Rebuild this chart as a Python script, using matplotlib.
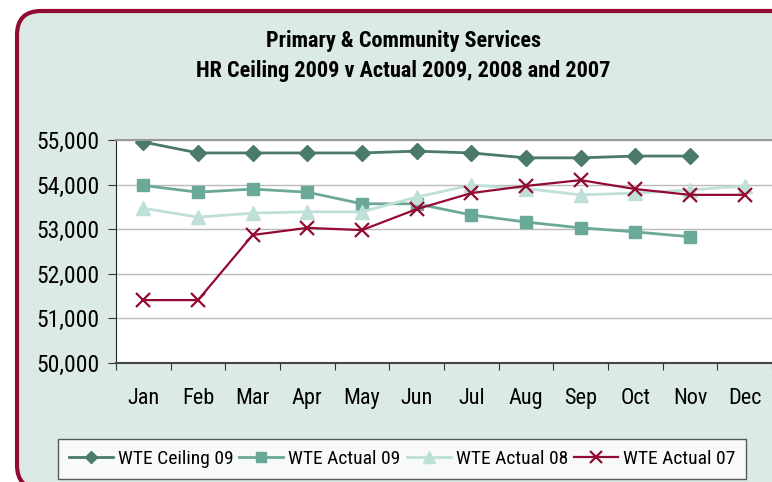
import matplotlib
matplotlib.use("Agg")
import matplotlib.pyplot as plt
from matplotlib.patches import FancyBboxPatch

plt.rcParams['font.family'] = ['Roboto Condensed', 'Liberation Sans', 'DejaVu Sans']

months = ["Jan", "Feb", "Mar", "Apr", "May", "Jun", "Jul", "Aug", "Sep", "Oct", "Nov", "Dec"]
ceiling_09 = [54955, 54710, 54710, 54710, 54710, 54750, 54710, 54600, 54600, 54640, 54640]
actual_09 = [53980, 53830, 53900, 53830, 53570, 53570, 53320, 53160, 53030, 52940, 52830]
actual_08 = [53470, 53270, 53360, 53390, 53390, 53720, 53990, 53910, 53770, 53810, 53880, 53970]
actual_07 = [51410, 51410, 52870, 53030, 52980, 53450, 53810, 53970, 54100, 53900, 53770, 53770]
yticks = [50000, 51000, 52000, 53000, 54000, 55000]

bg = "#dceae5"
maroon = "#930b31"

fig = plt.figure(figsize=(7.72, 4.82), dpi=100)
fig.patch.set_facecolor("white")

# frame behind everything, in pixel coords
back = fig.add_axes([0, 0, 1, 1])
back.set_xlim(0, 772)
back.set_ylim(482, 0)
back.axis("off")
back.add_patch(FancyBboxPatch((17, 11), 800, 478,
                              boxstyle="round,pad=0,rounding_size=24",
                              facecolor=bg, edgecolor=maroon, linewidth=3))

ax = fig.add_axes([116 / 772, 1 - 363 / 482, 656 / 772, 223 / 482])
ax.set_facecolor("white")
xs = list(range(len(months)))

ax.plot(xs[:len(ceiling_09)], ceiling_09, color="#4a7a68", lw=2, marker="D", ms=8,
        label="WTE Ceiling 09")
ax.plot(xs[:len(actual_09)], actual_09, color="#6aa898", lw=2, marker="s", ms=9,
        label="WTE Actual 09")
ax.plot(xs[:len(actual_08)], actual_08, color="#bfe0d8", lw=2, marker="^", ms=10,
        label="WTE Actual 08")
ax.plot(xs[:len(actual_07)], actual_07, color=maroon, lw=1.6, marker="x", ms=10, mew=1.6,
        label="WTE Actual 07")

ax.set_xlim(-0.5, 11.5)
ax.set_ylim(50000, 55000)
ax.set_yticks(yticks)
ax.set_yticklabels([f"{v:,}" for v in yticks], fontsize=17)
ax.yaxis.grid(True, color="#bbbbbb", lw=1)
ax.set_axisbelow(True)

ax.set_xticks([i - 0.5 for i in range(13)])
ax.set_xticklabels([])
ax.set_xticks(xs, minor=True)
ax.set_xticklabels(months, minor=True, fontsize=16)
ax.tick_params(axis="x", which="minor", length=0, pad=18)
ax.tick_params(axis="x", which="major", length=5, direction="out", color="#333333")
ax.tick_params(axis="y", length=6, direction="out", color="#333333", pad=6)

ax.spines["right"].set_visible(False)
ax.spines["top"].set_color("#999999")
ax.spines["top"].set_linewidth(1.5)
ax.spines["left"].set_color("#222222")
ax.spines["bottom"].set_color("#444444")
ax.spines["bottom"].set_linewidth(1.5)

fig.text(403 / 772, 1 - 41 / 482, "Primary & Community Services", ha="center", va="center",
         fontsize=16, fontweight="bold")
fig.text(403 / 772, 1 - 71 / 482, "HR Ceiling 2009 v Actual 2009, 2008 and 2007", ha="center",
         va="center", fontsize=16, fontweight="bold")

leg = ax.legend(loc="center", bbox_to_anchor=(402 / 772, 1 - 459 / 482),
                bbox_transform=fig.transFigure, ncol=4, fontsize=14, frameon=True,
                fancybox=False, edgecolor="#333333", handlelength=2.27, columnspacing=0.3,
                handletextpad=0.26, borderpad=0.55, borderaxespad=0, markerscale=0.8)
leg.get_frame().set_linewidth(1)

fig.savefig("out.png", dpi=100, facecolor=fig.get_facecolor())
